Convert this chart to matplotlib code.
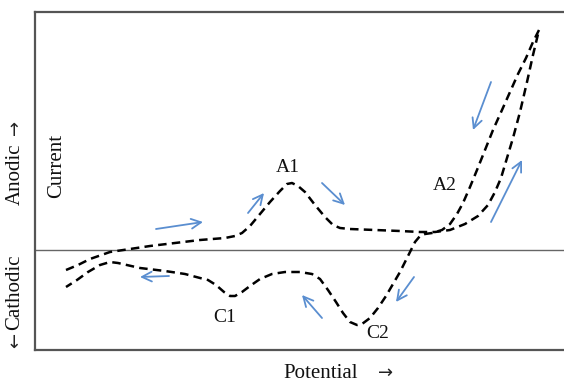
import matplotlib
matplotlib.use("Agg")
import matplotlib.pyplot as plt

plt.rcParams['font.family'] = ['Liberation Serif', 'DejaVu Serif']

# anodic (forward) scan, potential / current in arbitrary units
fwd_potential = [31, 43, 55, 75, 95, 115, 140, 165, 190, 200,
                 207, 215, 225, 235, 245, 252, 257, 263, 270, 280,
                 290, 298, 305, 315, 340, 365, 385, 400, 415, 430,
                 443, 453, 460, 466, 472, 478, 485, 492, 498, 504]
fwd_current = [-20, -15, -9, -2, 1, 4, 7, 10, 12, 14,
               17, 24, 36, 48, 59, 66, 67, 64, 58, 45,
               33, 25, 22, 21, 20, 19, 18, 18, 20, 26,
               34, 45, 58, 72, 92, 112, 138, 168, 195, 220]

# cathodic (reverse) scan
rev_potential = [504, 498, 491, 483, 475, 467, 458, 450, 442, 435,
                 428, 422, 415, 407, 397, 390, 385, 380, 376, 371,
                 365, 358, 351, 343, 335, 327, 322, 315, 308, 301,
                 293, 285, 277, 265, 250, 237, 225, 215, 207, 200,
                 195, 189, 181, 173, 165, 150, 130, 105, 83, 75,
                 65, 53, 42, 31]
rev_current = [220, 208, 192, 176, 158, 140, 120, 100, 80, 63,
               47, 36, 26, 20, 17, 16, 14, 8, 0, -10,
               -22, -34, -46, -58, -68, -74, -75, -72, -63, -52,
               -40, -29, -24, -22, -22, -24, -29, -36, -42, -46,
               -46, -42, -35, -30, -28, -24, -21, -18, -13, -12,
               -15, -22, -30, -37]

# scan direction arrows: (tail, head)
scan_arrows = [((121, 21), (168, 28)),
               ((213, 37), (229, 57)),
               ((287, 67), (310, 45)),
               ((456, 28), (487, 90)),
               ((456, 168), (438, 120)),
               ((379, -27), (361, -52)),
               ((287, -68), (267, -45)),
               ((134, -26), (105, -27))]

peak_labels = ['A1', 'A2', 'C1', 'C2']
peak_pos = [(253, 82), (410, 65), (190, -67), (343, -83)]

fig = plt.figure(figsize=(5.64, 3.83), dpi=100)
ax = fig.add_axes([35 / 564, 33 / 383, 1 - 35 / 564, 338 / 383])
ax.set_xlim(0, 529)
ax.set_ylim(-100, 238)
ax.set_xticks([])
ax.set_yticks([])
for s in ['left', 'top', 'bottom']:
    ax.spines[s].set_color('#555555')
    ax.spines[s].set_linewidth(1.6)
ax.spines['right'].set_visible(False)

ax.axhline(0, color='#666666', lw=1.0)

dash = (0, (3.4, 2.1))
ax.plot(fwd_potential, fwd_current, color='black', lw=1.8, ls=dash)
ax.plot(rev_potential, rev_current, color='black', lw=1.8, ls=dash)

for tail, head in scan_arrows:
    ax.annotate('', xy=head, xytext=tail,
                arrowprops=dict(arrowstyle='->,head_length=0.7,head_width=0.35',
                                color='#5a8ed0', lw=1.3, shrinkA=0, shrinkB=0))

for lab, (px, py) in zip(peak_labels, peak_pos):
    ax.text(px, py, lab, fontsize=14, ha='center', va='center', color='#111111')

W, H = 564, 383
txt = dict(fontsize=15, ha='center', va='center', color='#111111')
arr = dict(family='DejaVu Sans', fontsize=13, ha='center', va='center',
           color='#222222')
fig.text(57 / W, 1 - 166 / H, 'Current', rotation=90, **txt)
fig.text(15 / W, 1 - 174 / H, 'Anodic', rotation=90, **txt)
fig.text(15 / W, 1 - 127 / H, '\u2192', rotation=90, **arr)
fig.text(15 / W, 1 - 292 / H, 'Cathodic', rotation=90, **txt)
fig.text(15 / W, 1 - 340 / H, '\u2190', rotation=90, **arr)
fig.text(321 / W, 1 - 374 / H, 'Potential', **txt)
fig.text(386 / W, 1 - 373 / H, '\u2192', **arr)

fig.savefig('out.png', dpi=100)
